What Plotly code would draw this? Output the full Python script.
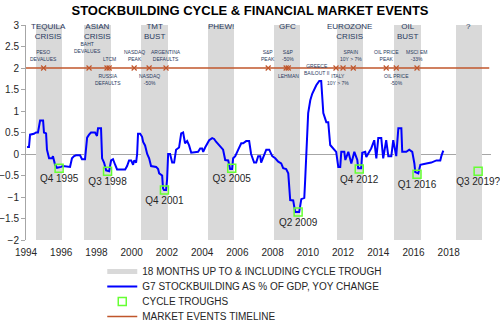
import plotly.graph_objects as go

# ---------------- DATA ----------------
# G7 stockbuilding as % of GDP, yoy change (decimal year, value)
stock_dates = [
    1994.06, 1994.17, 1994.23, 1994.45, 1994.57, 1994.68, 1994.80, 1994.97,
    1995.02, 1995.14, 1995.19, 1995.31, 1995.48, 1995.53, 1995.65, 1995.76, 1995.99,
    1996.10, 1996.50, 1996.61, 1996.73, 1996.84,
    1997.07, 1997.18, 1997.35, 1997.47, 1997.58, 1997.69, 1997.92,
    1998.03, 1998.09, 1998.26, 1998.32, 1998.43, 1998.55, 1998.72, 1998.83, 1998.94,
    1999.06, 1999.17, 1999.63, 1999.74, 1999.85, 1999.97,
    2000.08, 2000.14, 2000.25, 2000.31, 2000.36, 2000.48, 2000.59, 2000.65, 2000.76, 2000.88, 2000.99,
    2001.10, 2001.39, 2001.50, 2001.56, 2001.73, 2001.78, 2001.84, 2001.95,
    2002.01, 2002.07, 2002.18, 2002.30, 2002.41, 2002.52, 2002.69, 2002.81, 2002.92,
    2003.03, 2003.15, 2003.26, 2003.38, 2003.77, 2003.89,
    2004.00, 2004.06, 2004.17, 2004.40, 2004.57, 2004.68, 2004.80, 2004.97,
    2005.08, 2005.19, 2005.31, 2005.48, 2005.59, 2005.70, 2005.76, 2005.88,
    2006.05, 2006.22, 2006.33, 2006.50, 2006.67, 2006.78, 2006.95,
    2007.07, 2007.18, 2007.30, 2007.35, 2007.52, 2007.64, 2007.81, 2007.98,
    2008.15, 2008.32, 2008.49, 2008.60, 2008.77, 2008.89,
    2009.00, 2009.17, 2009.28, 2009.51, 2009.63, 2009.80, 2009.85, 2009.97,
    2010.02, 2010.14, 2010.25, 2010.48, 2010.65, 2010.76, 2010.88,
    2011.05, 2011.16, 2011.27, 2011.50, 2011.61, 2011.73, 2011.84, 2011.90,
    2012.07, 2012.13, 2012.30, 2012.47, 2012.64, 2012.81, 2012.86,
    2013.03, 2013.09, 2013.26, 2013.32, 2013.49, 2013.60, 2013.77, 2013.89,
    2014.00, 2014.17, 2014.28, 2014.45, 2014.57, 2014.74, 2014.85,
    2015.02, 2015.14, 2015.31, 2015.36, 2015.59, 2015.76, 2015.93,
    2016.05, 2016.10, 2016.27, 2016.39, 2016.73,
    2017.01, 2017.30, 2017.52, 2017.58, 2017.69,
]
stock_values = [
    0.16, 0.16, 0.45, 0.47, 0.50, 0.50, 0.78, 0.78,
    0.50, 0.48, 0.10, -0.10, -0.10, -0.05, -0.25, -0.32, -0.30,
    -0.28, -0.30, -0.10, -0.05, -0.03,
    -0.03, -0.12, -0.12, 0.38, 0.45, 0.50, 0.50,
    0.42, 0.60, 0.60, -0.10, -0.20, -0.38, -0.40, -0.15, -0.12,
    -0.25, -0.36, -0.36, -0.28, -0.15, -0.15,
    -0.25, -0.15, -0.20, 0.00, 0.47, 0.47, 0.40, 0.28, 0.20, 0.00, -0.10,
    -0.28, -0.30, -0.35, -0.45, -0.50, -0.80, -0.84, -0.84,
    -0.60, 0.00, 0.00, -0.20, -0.20, 0.10, 0.15, 0.48, 0.50,
    0.25, 0.30, 0.20, 0.03, 0.05, 0.13,
    0.13, 0.05, 0.15, 0.32, 0.37, 0.35, 0.28, 0.20,
    0.15, 0.10, -0.14, -0.15, -0.35, -0.35, -0.10, -0.05,
    0.10, 0.25, 0.25, 0.30, 0.30, 0.00, -0.20,
    -0.20, -0.05, -0.05, -0.20, 0.00, 0.10, 0.10, -0.05,
    -0.10, -0.18, -0.22, -0.33, -0.35, -0.45,
    -1.07, -1.08, -1.35, -1.35, -1.05, -1.02, -0.60, 0.72,
    0.95, 1.25, 1.40, 1.60, 1.70, 1.70, 0.95,
    0.74, 0.74, 0.21, 0.10, 0.05, -0.30, -0.30, 0.05,
    0.05, -0.14, 0.05, -0.22, 0.05, -0.14, -0.33,
    -0.33, 0.03, 0.05, -0.07, 0.05, 0.13, 0.32, -0.10,
    0.37, 0.37, -0.10, 0.32, -0.05, -0.05, 0.32,
    -0.05, 0.60, 0.60, 0.05, 0.05, 0.10, 0.05,
    -0.22, -0.42, -0.45, -0.25, -0.22,
    -0.20, -0.15, -0.15, -0.05, 0.08,
]

# 18-month windows up to & including each cycle trough
band_names = ["TEQUILA<br>CRISIS", "ASIAN<br>CRISIS", "TMT<br>BUST", "PHEW!",
              "GFC", "EUROZONE<br>CRISIS", "OIL<br>BUST", "?"]
band_centers = [1995.30, 1998.07, 2001.30, 2005.08, 2008.83, 2012.38, 2015.65, 2019.14]
band_length = [1.5] * 8

# cycle troughs
trough_labels = ["Q4 1995", "Q3 1998", "Q4 2001", "Q3 2005",
                 "Q2 2009", "Q4 2012", "Q1 2016", "Q3 2019?"]
trough_dates = [1995.88, 1998.63, 2001.86, 2005.68, 2009.45, 2012.92, 2016.20, 2019.67]
trough_values = [-0.33, -0.40, -0.84, -0.33, -1.35, -0.35, -0.47, -0.40]

# market events timeline
timeline_dates = [1994.0, 2020.3]
timeline_values = [2, 2]
event_names = ["PESO<br>DEVALUES", "BAHT<br>DEVALUES", "RUSSIA<br>DEFAULTS", "LTCM",
               "NASDAQ<br>PEAK", "NASDAQ<br>-50%", "ARGENTINA<br>DEFAULTS",
               "S&P<br>PEAK", "LEHMAN", "S&P<br>-50%", "GREECE<br>BAILOUT II",
               "ITALY<br>10Y > 7%", "SPAIN<br>10Y > 7%", "OIL PRICE<br>PEAK",
               "OIL PRICE<br>-50%", "MSCI EM<br>-33%"]
event_dates = [1995.00, 1997.58, 1998.60, 1998.72, 2000.14, 2000.99, 2001.95,
               2007.75, 2008.77, 2008.89, 2011.60, 2012.00, 2012.58, 2014.45,
               2015.02, 2016.20]
event_label_dates = [1995.02, 1997.47, 1998.65, 1998.72, 2000.14, 2000.99, 2001.93,
                     2007.75, 2008.89, 2008.89, 2010.48, 2011.70, 2012.46, 2014.45,
                     2015.02, 2016.16]
event_value = 2

x_ticks = list(range(1994, 2019, 2))
y_ticks = [-2, -1.5, -1, -0.5, 0, 0.5, 1, 1.5, 2, 2.5, 3]

# ---------------- STYLE ----------------
GREY = "#d9d9d9"
BLUE = "#0000ff"
GREEN = "#66ff33"
ORANGE = "#c0562b"
NAVY = "#2a3a5e"
FONT = "Liberation Sans, Arial, sans-serif"
event_side = ["above", "high", "below", "above", "above", "below", "above",
              "above", "below", "above", "middle", "below", "above", "above",
              "below", "above"]

fig = go.Figure()

fig.add_trace(go.Bar(
    x=band_centers, y=[5] * len(band_centers), base=-2, width=band_length,
    marker=dict(color=GREY, line=dict(width=0)), showlegend=False,
    hoverinfo="skip", legendgroup="bands"))
fig.add_trace(go.Scatter(
    x=[None], y=[None], mode="lines", line=dict(color=GREY, width=5),
    name="18 MONTHS UP TO & INCLUDING CYCLE TROUGH", legendgroup="bands",
    legend="legend"))

fig.add_trace(go.Scatter(
    x=timeline_dates, y=timeline_values, mode="lines",
    line=dict(color=ORANGE, width=1.5), showlegend=False,
    legendgroup="events"))
fig.add_trace(go.Scatter(
    x=event_dates, y=[event_value] * len(event_dates), mode="markers",
    marker=dict(symbol="x-thin", size=5, line=dict(color=ORANGE, width=1.2)),
    showlegend=False, legendgroup="events"))

fig.add_trace(go.Scatter(
    x=stock_dates, y=stock_values, mode="lines",
    line=dict(color=BLUE, width=2),
    name="G7 STOCKBUILDING AS % OF GDP, YOY CHANGE", legend="legend2"))

fig.add_trace(go.Scatter(
    x=trough_dates, y=trough_values, mode="markers+text",
    text=trough_labels, textposition="bottom center", cliponaxis=False,
    textfont=dict(size=10, color="#262626", family=FONT),
    marker=dict(symbol="square-open", size=8, color=GREEN,
                line=dict(color=GREEN, width=1.5)),
    name="CYCLE TROUGHS", legend="legend3"))

fig.add_trace(go.Scatter(
    x=[None], y=[None], mode="lines", line=dict(color=ORANGE, width=1.5),
    name="MARKET EVENTS TIMELINE", legendgroup="events", legend="legend4"))

# crisis titles
for name, c in zip(band_names, band_centers):
    fig.add_annotation(x=c, y=3, xref="x", yref="y", text=name, showarrow=False,
                       yanchor="top", yshift=5, align="center",
                       font=dict(size=8, color=NAVY, family=FONT))

# event labels
side_cfg = {"above": ("bottom", 4), "high": ("bottom", 12),
            "below": ("top", -3), "middle": ("middle", -1)}
for name, lx, side in zip(event_names, event_label_dates, event_side):
    ya, ys = side_cfg[side]
    fig.add_annotation(x=lx, y=event_value, xref="x", yref="y", text=name,
                       showarrow=False, yanchor=ya, yshift=ys, align="center",
                       font=dict(size=5, color=NAVY, family=FONT))


def legend_box(top_px):
    return dict(x=0.164, xanchor="left", xref="paper",
                y=1 - top_px / 321, yanchor="top", yref="container",
                font=dict(size=10, color="#262626", family=FONT),
                bgcolor="rgba(0,0,0,0)", tracegroupgap=0)


fig.update_layout(
    width=500, height=321,
    margin=dict(l=26, r=9, t=25, b=81, autoexpand=False),
    paper_bgcolor="white", plot_bgcolor="white",
    font=dict(family=FONT, color="#262626", size=10),
    title=dict(text="<b>STOCKBUILDING CYCLE & FINANCIAL MARKET EVENTS</b>",
               x=0.5, xref="container", xanchor="center",
               y=1 - 10 / 321, yref="container", yanchor="middle",
               font=dict(size=13, color="#000000", family=FONT)),
    showlegend=True,
    legend=legend_box(257),
    legend2=legend_box(272),
    legend3=legend_box(287),
    legend4=legend_box(302),
    bargap=0,
)
fig.update_xaxes(range=[1994, 2020.4], tickvals=x_ticks, showgrid=False,
                 zeroline=False, showline=False, ticks="",
                 ticklabelstandoff=5,
                 tickfont=dict(size=10, color="#262626"))
fig.update_yaxes(range=[-2, 3], tickvals=y_ticks, showgrid=False,
                 zeroline=True, zerolinecolor="#a6a6a6", zerolinewidth=1,
                 showline=True, linecolor="#a6a6a6", linewidth=1,
                 ticks="outside", ticklen=4, tickcolor="#a6a6a6",
                 tickfont=dict(size=10, color="#262626"))

fig.write_html("out.html")
